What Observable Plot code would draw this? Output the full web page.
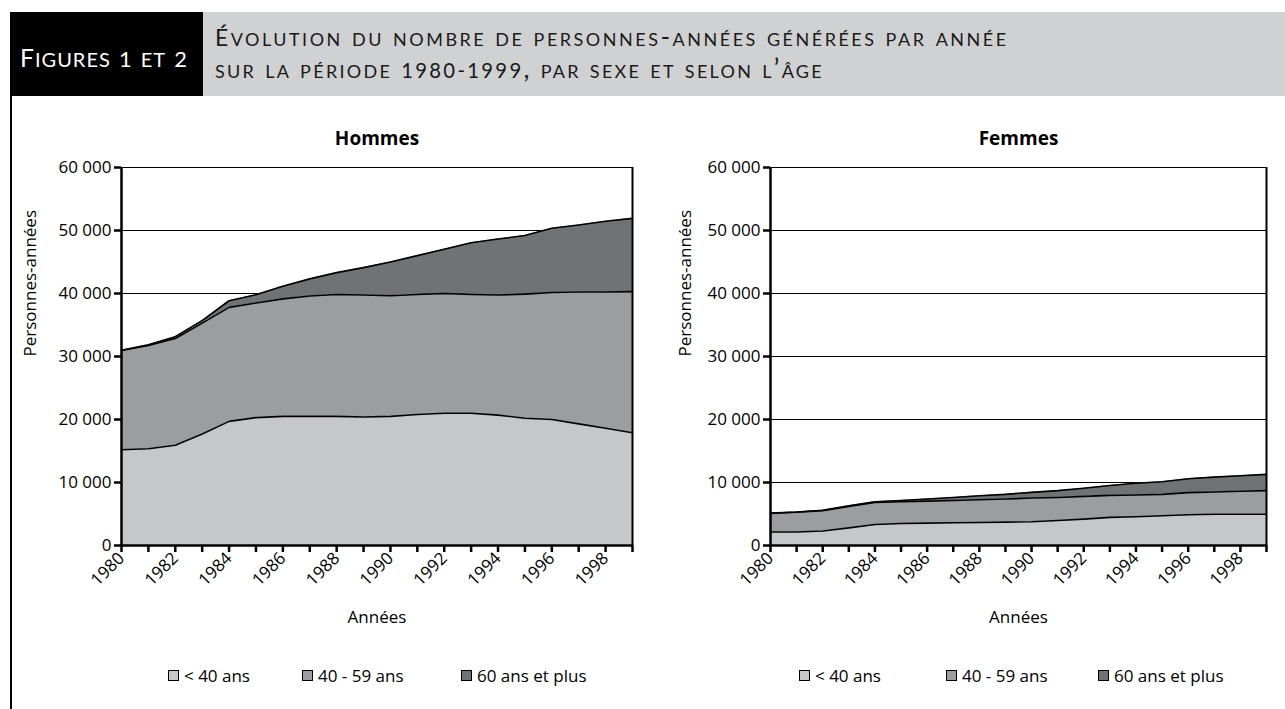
<!DOCTYPE html>
<html><head><meta charset="utf-8">
<script src="https://cdn.jsdelivr.net/npm/d3@7"></script>
<script src="https://cdn.jsdelivr.net/npm/@observablehq/plot@0.6"></script>
<style>
html,body{margin:0;padding:0;background:#fff;}
body{width:1285px;height:709px;position:relative;overflow:hidden;font-family:"Open Sans",sans-serif;}
#hdrBlack{position:absolute;left:10px;top:12px;width:193px;height:84px;background:#000;}
#hdrGray{position:absolute;left:203px;top:12px;width:1082px;height:84px;background:#d0d1d3;}
.hdr{position:absolute;font-family:Lato,"Open Sans",sans-serif;font-variant:small-caps;white-space:nowrap;line-height:1;}
.num{font-size:0.78em;}
.ini{font-size:0.88em;}
#fig{left:20px;top:42px;color:#fff;font-size:28px;letter-spacing:1px;}
#t1{left:215px;top:23px;color:#1a1a1a;font-size:26px;letter-spacing:2.5px;}
#t2{left:215px;top:55px;color:#1a1a1a;font-size:26px;letter-spacing:2.3px;}
#frame{position:absolute;left:10px;top:96px;width:1.5px;height:613px;background:#000;}
.panel{position:absolute;top:100px;}
.leg{position:absolute;top:664px;font-size:17px;white-space:nowrap;display:flex;align-items:center;}
.sw{display:inline-block;width:9px;height:9px;border:1px solid #000;margin-right:5px;}
</style>
</head><body>
<div id="hdrBlack"></div><div id="hdrGray"></div>
<div class="hdr" id="fig"><span class="ini">F</span>igures <span class="num">1</span> et <span class="num">2</span></div>
<div class="hdr" id="t1"><span class="ini">É</span>volution du nombre de personnes-années générées par année</div>
<div class="hdr" id="t2">sur la période <span class="num">1980-1999</span>, par sexe et selon l’âge</div>
<div id="frame"></div>
<div class="panel" id="left" style="left:0px"></div>
<div class="panel" id="right" style="left:645px"></div>
<div id="legends"></div>
<script>
const years = [1980,1981,1982,1983,1984,1985,1986,1987,1988,1989,1990,1991,1992,1993,1994,1995,1996,1997,1998,1999];
const xLabels = [1980,1982,1984,1986,1988,1990,1992,1994,1996,1998];
const yTicks = [0,10000,20000,30000,40000,50000,60000];
const groups = ["< 40 ans","40 - 59 ans","60 ans et plus"];
const colors = ["#c6c7c9","#9c9d9f","#717274"];

const hommesMoins40 = [15200,15350,15900,17700,19700,20300,20500,20500,20500,20400,20500,20800,21000,21000,20700,20200,20000,19300,18600,17900];
const hommes40a59  = [15750,16400,16950,17600,18100,18200,18650,19100,19350,19350,19150,19050,19000,18850,19050,19700,20150,20950,21650,22400];
const hommes60plus = [50,100,300,400,1050,1300,2000,2720,3460,4360,5340,6160,7030,8210,8890,9310,10210,10630,11210,11630];

const femmesMoins40 = [2150,2150,2300,2800,3330,3490,3550,3600,3660,3710,3760,3980,4190,4460,4570,4730,4890,4950,4950,4950];
const femmes40a59  = [2950,3120,3240,3380,3500,3450,3490,3550,3600,3660,3770,3650,3610,3500,3440,3390,3500,3540,3650,3760];
const femmes60plus = [60,50,50,110,110,210,330,480,640,750,910,1080,1290,1560,1880,1990,2200,2370,2480,2580];

const fmt = d => d3.format(",")(d).replace(/,/g, " ");
const FONT = '"Open Sans",sans-serif';

function chart(title, series, marginLeft, marginRight, width, ylabDx) {
  const data = years.flatMap((yr, i) => groups.map((g, k) => ({year: yr, group: g, value: series[k][i]})));
  return Plot.plot({
    width, height: 540,
    marginLeft, marginRight, marginTop: 67, marginBottom: 95,
    style: {fontFamily: FONT, fontSize: "17px", color: "#000", background: "transparent", overflow: "visible"},
    x: {domain: [1980, 1999], label: null},
    y: {domain: [0, 60000], label: null},
    color: {domain: groups, range: colors},
    marks: [
      Plot.ruleY(yTicks, {stroke: "#000", strokeWidth: 1}),
      Plot.areaY(data, {x: "year", y: "value", fill: "group", order: groups}),
      Plot.line(data, Plot.stackY2({x: "year", y: "value", z: "group", order: groups, stroke: "#000", strokeWidth: 1.6})),
      Plot.ruleX([1999], {stroke: "#000", strokeWidth: 2}),
      Plot.ruleX([1980], {stroke: "#000", strokeWidth: 2.5}),
      Plot.ruleY([0], {stroke: "#000", strokeWidth: 2.5}),
      Plot.axisY({ticks: yTicks, tickFormat: fmt, tickSize: 7, tickPadding: 3, strokeWidth: 2.5, label: null, fontSize: 17}),
      Plot.axisX({ticks: years, tickSize: 7, tickPadding: 3, strokeWidth: 2.5, tickRotate: -45,
                  tickFormat: d => xLabels.includes(d) ? String(d) : "", label: null, fontSize: 17}),
      Plot.text([title], {text: d => d, frameAnchor: "top", lineAnchor: "middle", dy: -29, fontWeight: "bold", fontSize: 19}),
      Plot.text(["Années"], {text: d => d, frameAnchor: "bottom", lineAnchor: "middle", dy: 72, fontSize: 17}),
      Plot.text(["Personnes-années"], {text: d => d, frameAnchor: "left", lineAnchor: "middle", dx: ylabDx, rotate: -90, fontSize: 17})
    ]
  });
}

document.getElementById("left").append(chart("Hommes", [hommesMoins40, hommes40a59, hommes60plus], 121, 13, 645, -91));
document.getElementById("right").append(chart("Femmes", [femmesMoins40, femmes40a59, femmes60plus], 125, 19, 640, -85));

const legPos = [[168, 302, 461], [799, 946, 1098]];
const legRoot = document.getElementById("legends");
legPos.forEach(pos => {
  groups.forEach((g, k) => {
    const item = document.createElement("div");
    item.className = "leg";
    item.style.left = pos[k] + "px";
    const sw = document.createElement("span");
    sw.className = "sw";
    sw.style.background = colors[k];
    item.append(sw, document.createTextNode(g));
    legRoot.append(item);
  });
});
</script>
</body></html>
